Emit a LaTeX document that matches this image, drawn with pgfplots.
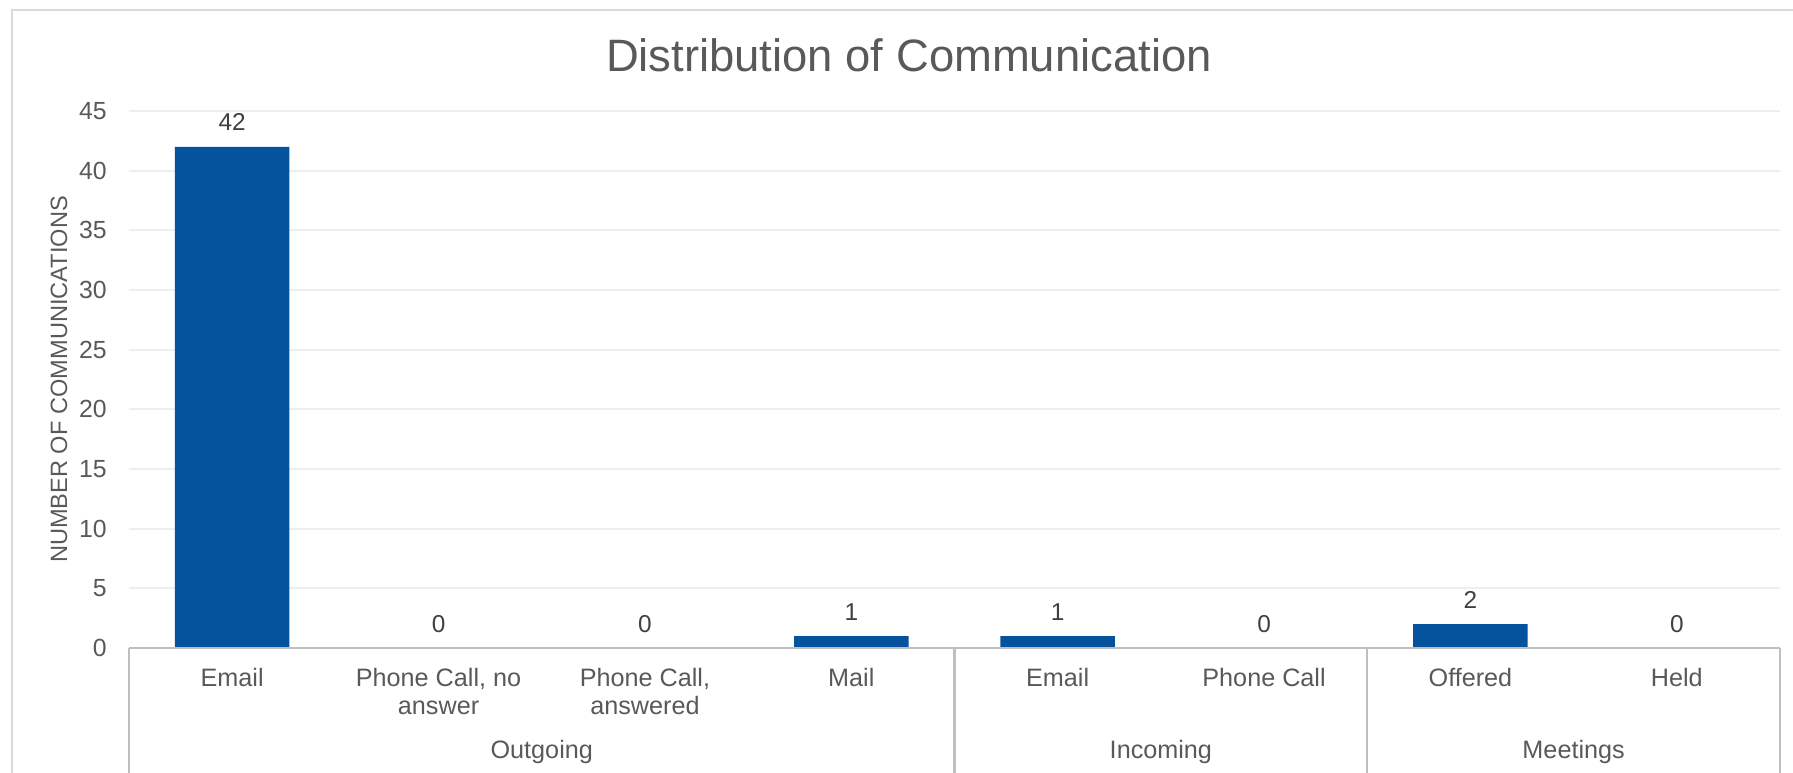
\documentclass[border=0pt]{standalone}
\usepackage{pgfplots}
\pgfplotsset{compat=1.18}
\usepackage{fontspec}
\setmainfont{Liberation Sans}
\definecolor{barblue}{HTML}{04539C}
\definecolor{txtgray}{HTML}{595959}
\definecolor{lblgray}{HTML}{404040}
\definecolor{gridc}{HTML}{EEEEEE}
\definecolor{axisc}{HTML}{BFBFBF}
\definecolor{borderc}{HTML}{D9D9D9}
\begin{document}
\begin{tikzpicture}
\useasboundingbox (0,0) rectangle (896.5pt,-386pt);
\draw[borderc, line width=1pt] (6pt,-400pt) -- (6pt,-5pt) -- (920pt,-5pt);
\begin{axis}[
  at={(64.5pt,-324pt)}, anchor=south west,
  scale only axis, width=825.5pt, height=268.5pt,
  xmin=-0.5, xmax=7.5, ymin=0, ymax=45,
  ytick={0,5,...,45},
  xtick={0,...,7},
  xticklabels={Email, {Phone Call, no\\answer}, {Phone Call,\\answered}, Mail, Email, Phone Call, Offered, Held},
  xticklabel style={font=\fontsize{12.6}{14.25}\selectfont, align=center, anchor=north, inner sep=0pt, yshift=-9.9pt, text=txtgray},
  yticklabel style={font=\fontsize{12.4}{14}\selectfont, anchor=east, inner sep=0pt, xshift=-11pt, text=txtgray},
  /pgf/number format/assume math mode=true,
  major tick length=0pt,
  axis line style={draw=none},
  ymajorgrids, grid style={gridc, line width=0.9pt},
  ylabel={NUMBER OF COMMUNICATIONS},
  ylabel style={at={(axis description cs:-0.0424,0.5)}, anchor=center, font=\fontsize{11.8}{14}\selectfont, text=txtgray},
  title={Distribution of Communication},
  title style={at={(axis description cs:0.4724,1.082)}, anchor=center, font=\fontsize{22.7}{27}\selectfont, text=txtgray},
  clip=false,
]
\addplot[ybar, bar width=57.3pt, fill=barblue, draw=none,
  nodes near coords, nodes near coords style={font=\fontsize{12.2}{14}\selectfont, text=lblgray, anchor=base, yshift=8pt, inner sep=0pt}]
  coordinates {(0,42) (1,0) (2,0) (3,1) (4,1) (5,0) (6,2) (7,0)};
\draw[axisc, line width=1.1pt] (axis cs:-0.5,0) -- (axis cs:7.5,0);
\draw[axisc, line width=1.1pt] (axis cs:-0.5,0) -- ([yshift=-70pt]axis cs:-0.5,0);
\draw[axisc, line width=1.1pt] (axis cs:3.5,0) -- ([yshift=-70pt]axis cs:3.5,0);
\draw[axisc, line width=1.1pt] (axis cs:5.5,0) -- ([yshift=-70pt]axis cs:5.5,0);
\draw[axisc, line width=1.1pt] (axis cs:7.5,0) -- ([yshift=-70pt]axis cs:7.5,0);
\node[font=\fontsize{12.6}{14}\selectfont, text=txtgray, anchor=base, yshift=-55.4pt] at (axis cs:1.5,0) {Outgoing};
\node[font=\fontsize{12.6}{14}\selectfont, text=txtgray, anchor=base, yshift=-55.4pt] at (axis cs:4.5,0) {Incoming};
\node[font=\fontsize{12.6}{14}\selectfont, text=txtgray, anchor=base, yshift=-55.4pt] at (axis cs:6.5,0) {Meetings};
\end{axis}
\end{tikzpicture}
\end{document}
